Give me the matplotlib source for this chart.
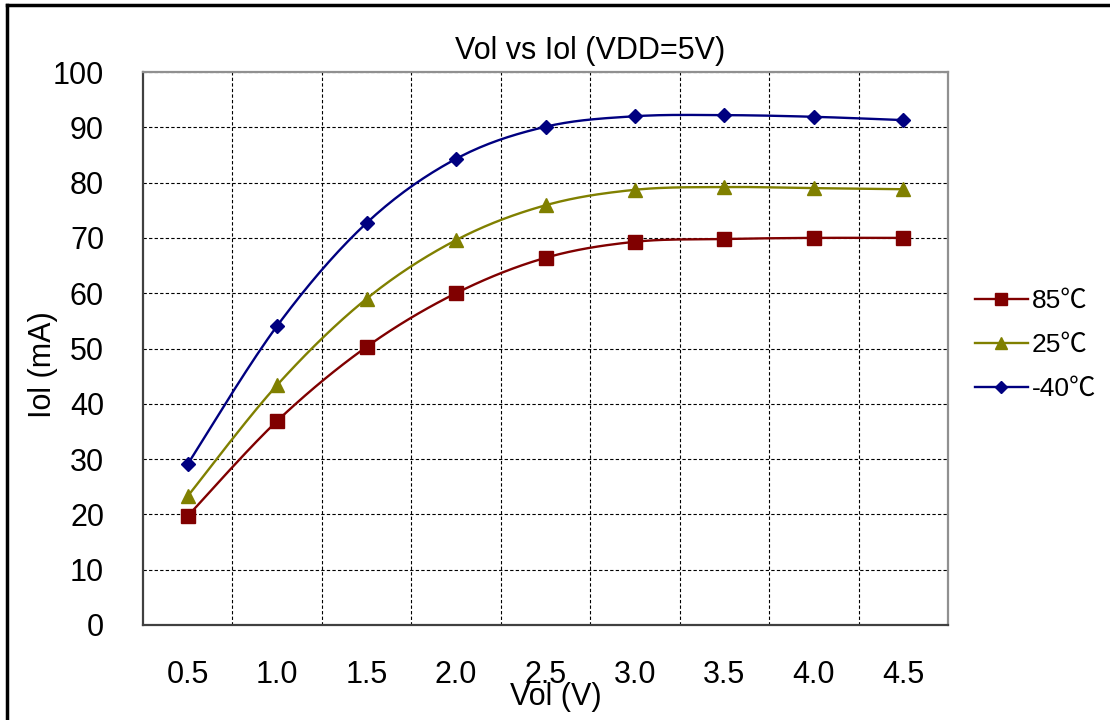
import numpy as np
import matplotlib
matplotlib.use("Agg")
import matplotlib.pyplot as plt
from matplotlib.lines import Line2D

plt.rcParams['font.family'] = ['Liberation Sans', 'Noto Sans CJK SC', 'DejaVu Sans']

categories = ["0.5", "1.0", "1.5", "2.0", "2.5", "3.0", "3.5", "4.0", "4.5"]
iol_85 = [19.7, 36.9, 50.3, 60.0, 66.4, 69.3, 69.8, 70.0, 70.0]
iol_25 = [23.3, 43.4, 59.0, 69.6, 75.9, 78.7, 79.2, 79.0, 78.8]
iol_m40 = [29.1, 54.1, 72.7, 84.3, 90.1, 92.0, 92.2, 91.9, 91.3]
labels = ["85\u2103", "25\u2103", "-40\u2103"]
colors = ["#800000", "#808000", "#000080"]
markers = ["s", "^", "D"]
msizes = [10, 10, 7.5]


def smooth(x, y, n=20):
    # Catmull-Rom style smoothing through the data points (Excel-like smoothed line)
    x = np.asarray(x, float); y = np.asarray(y, float)
    P = np.column_stack([x, y])
    P = np.vstack([P[0], P, P[-1]])
    out = []
    for i in range(1, len(P) - 2):
        p0, p1, p2, p3 = P[i - 1], P[i], P[i + 1], P[i + 2]
        c1 = p1 + (p2 - p0) / 6.0
        c2 = p2 - (p3 - p1) / 6.0
        t = np.linspace(0, 1, n)[:, None]
        seg = (1 - t) ** 3 * p1 + 3 * (1 - t) ** 2 * t * c1 + 3 * (1 - t) * t ** 2 * c2 + t ** 3 * p2
        out.append(seg if i == 1 else seg[1:])
    S = np.vstack(out)
    return S[:, 0], S[:, 1]


fig = plt.figure(figsize=(11.1, 7.2), dpi=100)
ax = fig.add_axes([143 / 1110, 1 - 625 / 720, (948 - 143) / 1110, (625 - 72) / 720])

xpos = np.arange(len(categories)) + 0.5
for vals, lab, c, m, ms in zip([iol_85, iol_25, iol_m40], labels, colors, markers, msizes):
    sx, sy = smooth(xpos, vals)
    ax.plot(sx, sy, color=c, lw=1.7, zorder=3)
    ax.plot(xpos, vals, linestyle='none', marker=m, markersize=ms, color=c, zorder=4)

ax.set_xlim(0, len(categories))
ax.set_ylim(0, 100)
ax.set_yticks(np.arange(0, 101, 10))
ax.set_xticks(xpos)
ax.set_xticklabels(categories)
ax.set_xticks(np.arange(1, len(categories)), minor=True)
ax.tick_params(axis='x', which='major', length=0, pad=25, labelsize=22)
ax.tick_params(axis='x', which='minor', length=0)
ax.tick_params(axis='y', which='major', length=0, pad=28, labelsize=22)
ax.grid(True, which='minor', axis='x', color='black', linestyle=(0, (3, 2)), lw=0.8)
ax.grid(True, which='major', axis='y', color='black', linestyle=(0, (3, 2)), lw=0.8)
ax.grid(False, which='major', axis='x')
ax.set_axisbelow(True)

ax.spines['top'].set_color('#909090')
ax.spines['right'].set_color('#909090')
ax.spines['left'].set_color('#404040')
ax.spines['bottom'].set_color('#404040')
for s in ax.spines.values():
    s.set_linewidth(1.6)

fig.text(590 / 1110, 1 - 51 / 720, "Vol vs Iol (VDD=5V)", ha='center', va='center', fontsize=22)
fig.text(43 / 1110, 1 - 365 / 720, "Iol (mA)", ha='center', va='center', rotation=90, fontsize=22)
fig.text(556 / 1110, 1 - 697 / 720, "Vol (V)", ha='center', va='center', fontsize=22)

handles = [Line2D([], [], color=c, lw=1.7, marker=m, markersize=ms * 0.85)
           for c, m, ms in zip(colors, markers, msizes)]
fig.legend(handles, labels, loc='center left', bbox_to_anchor=(975 / 1110, 1 - 345 / 720),
           frameon=False, fontsize=19, handlelength=2.0, labelspacing=0.75, handletextpad=0.15,
           borderpad=0, borderaxespad=0)

# outer frame (top and left edges visible)
fig.add_artist(Line2D([7 / 1110, 1.0], [1 - 5 / 720, 1 - 5 / 720], transform=fig.transFigure,
                      color='black', lw=2.5))
fig.add_artist(Line2D([7 / 1110, 7 / 1110], [1 - 5 / 720, 0], transform=fig.transFigure,
                      color='black', lw=2.5))

fig.savefig("out.png", dpi=100)
